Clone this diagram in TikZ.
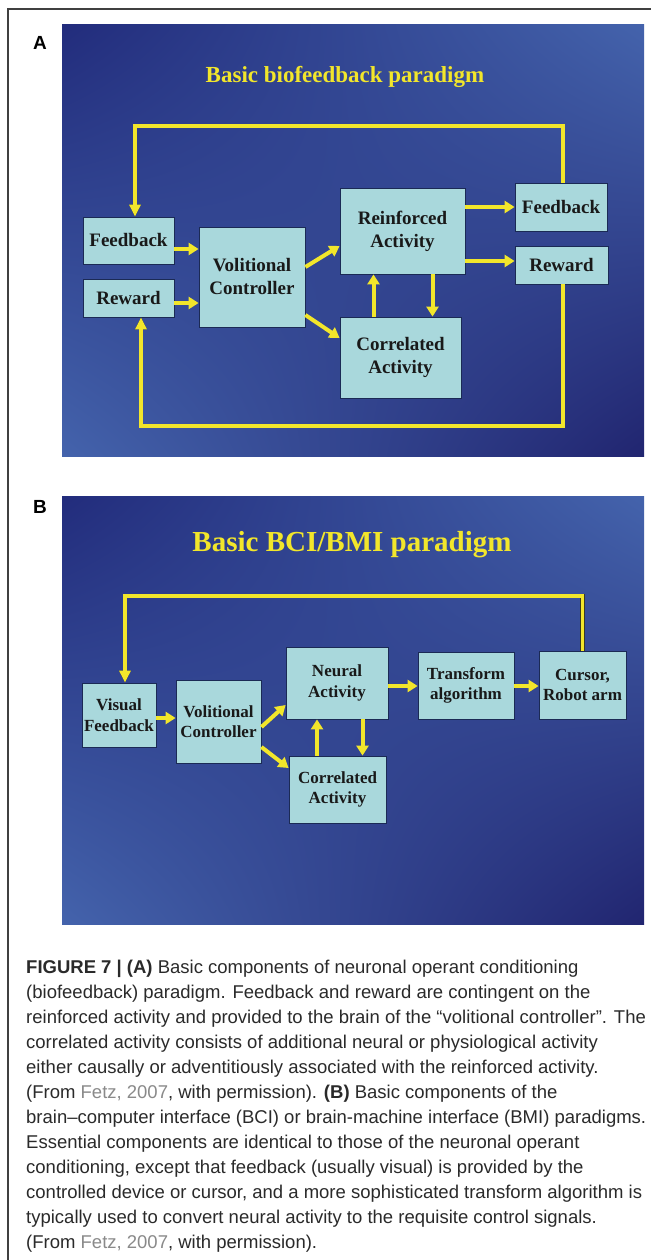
\documentclass[tikz,border=0pt]{standalone}
\usepackage{fontspec}
\setmainfont{Liberation Serif}
\newfontfamily\capfont{Liberation Sans}
\usetikzlibrary{arrows.meta,calc,shadings}
\definecolor{ylw}{HTML}{F2E62B}
\definecolor{boxc}{HTML}{A9D8DC}
\definecolor{boxd}{HTML}{1B2A55}
\definecolor{bgA}{HTML}{222C7C}
\definecolor{bgL}{HTML}{4463AC}
\definecolor{bgB}{HTML}{212570}
\definecolor{capc}{HTML}{2A2A2A}
\definecolor{linkc}{HTML}{8A8A8A}
\definecolor{edge}{HTML}{3A3A20}
\begin{document}
\begin{tikzpicture}[x=1pt,y=-1pt,
 box/.style={draw=boxd, line width=0.8pt, fill=boxc, align=center, inner sep=0pt, text=black!90, font=\bfseries\fontsize{19}{23}\selectfont},
 boxb/.style={box, font=\bfseries\fontsize{17}{20.5}\selectfont},
 arr/.style={draw=ylw, line width=4pt, -{Triangle[length=10pt,width=12pt]}},
 fbloop/.style={draw=ylw, line width=3.2pt, preaction={draw=edge, line width=4.6pt}, -{Triangle[length=12pt,width=11pt]}},
 ttl/.style={text=ylw, inner sep=0pt},
 panel/.style={upper left=bgA, lower right=bgB, upper right=bgL, lower left=bgL},
 lbl/.style={inner sep=0pt, font=\capfont\bfseries\fontsize{19}{22}\selectfont}
]
\useasboundingbox (0,0) rectangle (651,1260);
\fill[white] (0,0) rectangle (651,1260);
\draw[line width=1.3pt, black!75] (8,1260) -- (8,9) -- (651,9);

% ---------- Panel A ----------
\node[lbl] (labA) at (40,43) {A};
\shade[panel] (62,25) rectangle (644,456);
\node[ttl, font=\bfseries\fontsize{23}{27}\selectfont] (titA) at (345,77) {Basic biofeedback paradigm};

\node[box, minimum width=91pt, minimum height=47pt] (fbL) at (128.5,240.5) {Feedback};
\node[box, minimum width=91pt, minimum height=38pt] (rwL) at (128.5,298) {Reward};
\node[box, minimum width=106pt, minimum height=100pt] (vcA) at (252,277) {Volitional\\Controller};
\node[box, minimum width=125pt, minimum height=86pt] (reA) at (402.5,231) {Reinforced\\Activity};
\node[box, minimum width=121pt, minimum height=81pt] (coA) at (400.5,357.5) {Correlated\\Activity};
\node[box, minimum width=92pt, minimum height=48pt] (fbR) at (561,207) {Feedback};
\node[box, minimum width=93pt, minimum height=38pt] (rwR) at (561.5,265) {Reward};

\coordinate (topA) at (135,126);
\coordinate (botA) at (141,426);
\draw[fbloop] ([xshift=2pt]fbR.north) |- (topA) -- (topA |- fbL.north);
\draw[fbloop] ([xshift=1.5pt]rwR.south) |- (botA) -- (botA |- rwL.south);

\draw[arr] ([yshift=-8.5pt]fbL.east) -- ([yshift=-8.5pt]fbL.east -| vcA.west);
\draw[arr] ([yshift=-5pt]rwL.east) -- ([yshift=-5pt]rwL.east -| vcA.west);
\draw[arr] ([yshift=10pt]vcA.east) -- ([yshift=-15pt]reA.west);
\draw[arr] ([yshift=-38pt]vcA.east) -- ([yshift=19.5pt]coA.west);
\draw[arr] ([xshift=-27pt]coA.north) -- ([xshift=-27pt]coA.north |- reA.south);
\draw[arr] ([xshift=30pt]reA.south) -- ([xshift=30pt]reA.south |- coA.north);
\draw[arr] (reA.east |- fbR.west) -- (fbR.west);
\draw[arr] ([yshift=4pt]reA.east |- rwR.west) -- ([yshift=4pt]rwR.west);

% ---------- Panel B ----------
\node[lbl] (labB) at (40,507) {B};
\shade[panel] (62,496) rectangle (644,924);
\node[ttl, font=\bfseries\fontsize{29}{33}\selectfont] (titB) at (352,545) {Basic BCI/BMI paradigm};

\node[boxb, minimum width=74pt, minimum height=64pt] (vfB) at (119,715) {Visual\\Feedback};
\node[boxb, minimum width=85pt, minimum height=83pt] (vcB) at (218.5,721.5) {Volitional\\Controller};
\node[boxb, minimum width=102pt, minimum height=72pt] (neB) at (337,683) {Neural\\Activity};
\node[boxb, minimum width=96pt, minimum height=67pt] (trB) at (466,685.5) {Transform\\algorithm};
\node[boxb, minimum width=87pt, minimum height=68pt] (cuB) at (582.5,685) {Cursor,\\Robot arm};
\node[boxb, minimum width=97pt, minimum height=67pt] (coB) at (337.5,789.5) {Correlated\\Activity};

\coordinate (topB) at (125,596);
\draw[fbloop] (cuB.north) |- (topB) -- (topB |- vfB.north);

\draw[arr] ([yshift=-3pt]vfB.east) -- ([yshift=-3pt]vfB.east -| vcB.west);
\draw[arr] ([yshift=-5.5pt]vcB.east) -- ([yshift=-22pt]neB.west);
\draw[arr] ([yshift=-25.5pt]vcB.east) -- ([yshift=21.5pt]coB.west);
\draw[arr] ([xshift=-20.5pt]coB.north) -- ([xshift=-20.5pt]coB.north |- neB.south);
\draw[arr] ([xshift=25.5pt]neB.south) -- ([xshift=25.5pt]neB.south |- coB.north);
\draw[arr] ([yshift=-3pt]neB.east) -- ([yshift=-3pt]neB.east -| trB.west);
\draw[arr] ([yshift=-3pt]neB.east -| trB.east) -- ([yshift=-3pt]neB.east -| cuB.west);

% ---------- Caption ----------
\node[anchor=north west, align=left, inner sep=0pt, text=capc,
      font=\capfont\fontsize{18.5}{25}\selectfont] (cap) at (26,960) {%
\textbf{FIGURE 7 | (A)} Basic components of neuronal operant conditioning\\
(biofeedback) paradigm. Feedback and reward are contingent on the\\
reinforced activity and provided to the brain of the “volitional controller”. The\\
correlated activity consists of additional neural or physiological activity\\
either causally or adventitiously associated with the reinforced activity.\\
(From {\color{linkc}Fetz, 2007}, with permission). \textbf{(B)} Basic components of the\\
brain–computer interface (BCI) or brain-machine interface (BMI) paradigms.\\
Essential components are identical to those of the neuronal operant\\
conditioning, except that feedback (usually visual) is provided by the\\
controlled device or cursor, and a more sophisticated transform algorithm is\\
typically used to convert neural activity to the requisite control signals.\\
(From {\color{linkc}Fetz, 2007}, with permission).};
\end{tikzpicture}
\end{document}
